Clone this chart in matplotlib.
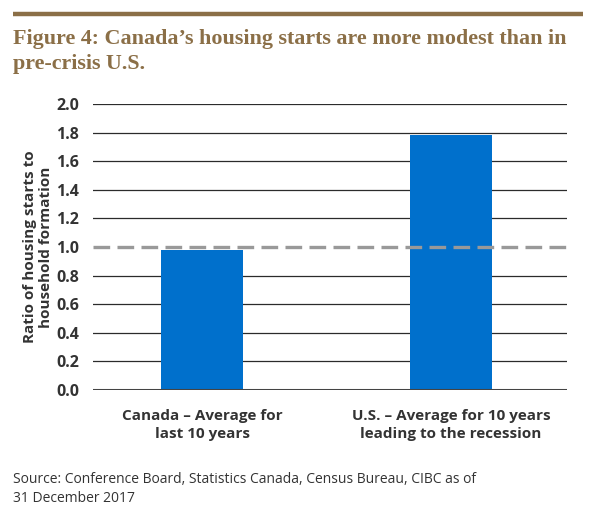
import matplotlib
matplotlib.use('Agg')
from matplotlib import pyplot as plt
from matplotlib.lines import Line2D

# Chart data
categories = ['Canada \u2013 Average for\nlast 10 years',
              'U.S. \u2013 Average for 10 years\nleading to the recession']
ratios = [0.98, 1.78]
yticks = [0.0, 0.2, 0.4, 0.6, 0.8, 1.0, 1.2, 1.4, 1.6, 1.8, 2.0]

title = 'Figure 4: Canada\u2019s housing starts are more modest than in\npre-crisis U.S.'
ylabel = 'Ratio of housing starts to\nhousehold formation'
source = ('Source: Conference Board, Statistics Canada, Census Bureau, CIBC as of\n'
          '31 December 2017')

gold = '#8b6f47'
blue = '#0070cc'
dark = '#333333'

W, H = 596, 516
fig = plt.figure(figsize=(W / 100, H / 100), dpi=100)

# top rule
fig.add_artist(Line2D([13 / W, 583 / W], [1 - 13.5 / H, 1 - 13.5 / H],
                      color=gold, lw=3.2, solid_capstyle='butt'))

fig.text(13 / W, 1 - 29 / H, title, ha='left', va='top', color=gold,
         family='Liberation Serif', fontweight='bold', fontsize=15.8,
         linespacing=1.3)

ax = fig.add_axes([93 / W, 1 - 390 / H, 474 / W, 286 / H])
x = [0, 1]
ax.bar(x, ratios, width=0.333, color=blue, zorder=2)
ax.set_xlim(-0.438, 1.466)
ax.set_ylim(0, 2.0)
ax.set_yticks(yticks)
ax.set_yticklabels([f'{t:.1f}' for t in yticks])
for t in yticks[1:]:
    if t == 1.0:
        continue
    ax.axhline(t, color='#2b2b2b', lw=0.9, zorder=1)
ax.axhline(0, color='#444444', lw=2.2, zorder=3)
ax.axhline(1.0, color='#999999', lw=2.4, dashes=(5, 2.2), zorder=3)

for s in ax.spines.values():
    s.set_visible(False)
ax.tick_params(axis='y', length=0, pad=10, labelsize=11.5, labelcolor=dark)
ax.tick_params(axis='x', length=0, pad=14, labelsize=11, labelcolor=dark)
ax.set_xticks(x)
ax.set_xticklabels(categories, fontweight='bold', linespacing=1.3)
for lab in ax.get_yticklabels():
    lab.set_fontweight('bold')
    lab.set_family('Open Sans')
for lab in ax.get_xticklabels():
    lab.set_family('Open Sans')

fig.text(38 / W, 1 - 247 / H, ylabel, rotation=90, ha='center', va='center',
         color=dark, family='Open Sans', fontweight='bold', fontsize=11,
         linespacing=1.2)

fig.text(13 / W, 1 - 472 / H, source, ha='left', va='top', color=dark,
         family='Open Sans', fontsize=10, linespacing=1.35)

fig.savefig('out.png', dpi=100)
